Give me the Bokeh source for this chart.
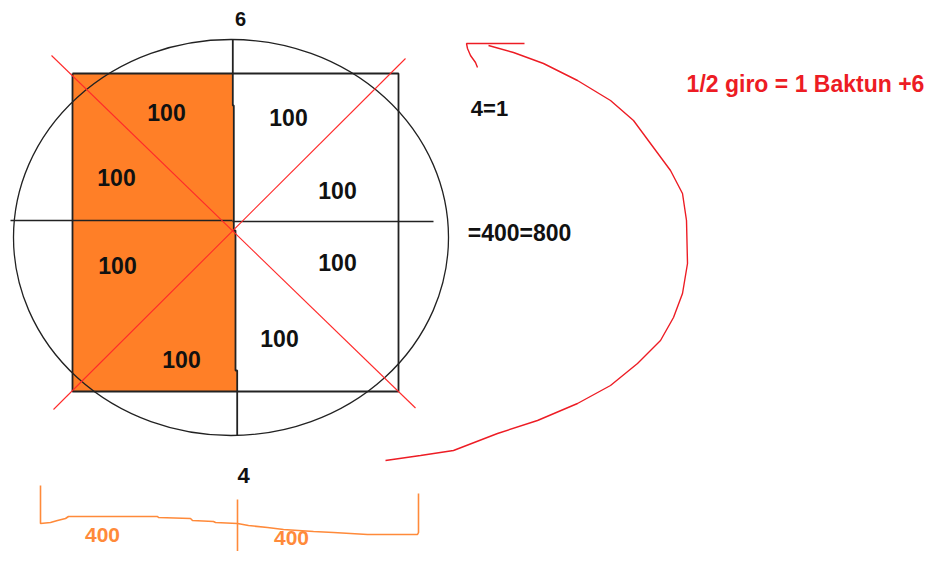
from bokeh.plotting import figure
from bokeh.models import Range1d
from bokeh.core.properties import value
from bokeh.embed import file_html
from bokeh.resources import INLINE

# ---- data (image-pixel coordinates of the hand drawing) ----
sector_labels = ["100", "100", "100", "100", "100", "100", "100", "100"]
sector_x = [166, 288, 116, 337, 117, 337, 279, 181]
sector_y = [112, 117, 177, 190, 265, 262, 338, 359]

note_labels = ["6", "4", "4=1", "=400=800"]
note_x = [240, 243, 489, 519]
note_y = [18, 475, 108, 232]
note_size = ["20px", "22px", "22px", "23px"]

title_text = ["1/2 giro = 1 Baktun +6"]
title_x = [805]
title_y = [83]

half_labels = ["400", "400"]
half_x = [102, 291]
half_y = [534, 537]

ellipse_cx, ellipse_cy, ellipse_w, ellipse_h = [230.5], [237], [435], [396]

square_x = [72, 398, 398, 72, 72]
square_y = [73, 73, 391, 391, 73]

fill_x = [72, 232, 232, 233, 233, 235, 235, 237, 237, 72]
fill_y = [73, 73, 105, 105, 230, 230, 370, 370, 391, 391]

vline_x = [232.3, 232.3, 233.3, 233.3, 235, 235, 236.7, 236.7]
vline_y = [39, 105, 105, 230, 230, 370, 370, 435]
hline_left_x, hline_left_y = [10, 232], [220, 220]
hline_right_x, hline_right_y = [232, 433], [221, 221]

diag1_x, diag1_y = [51, 415], [55, 407.5]
diag2_x, diag2_y = [405, 53], [58, 409]

arc_x = [488, 513, 543, 577, 610, 633, 650, 670, 682, 686, 687, 682, 673, 660,
         637, 610, 577, 537, 497, 453, 420, 385]
arc_y = [45, 52, 63, 80, 100, 120, 143, 170, 193, 220, 263, 293, 317, 340,
         363, 385, 403, 420, 433, 450, 455, 460]
arrow_x = [524, 466, 467, 470, 475, 477]
arrow_y = [43, 43, 48, 55, 62, 67]

brace_x = [40, 40, 50, 57, 65, 68, 97, 157, 158, 190, 192, 213, 215, 237, 248,
           267, 283, 313, 333, 367, 417, 418, 418]
brace_y = [485, 523, 522, 520, 518, 516, 516, 516, 517, 518, 520, 521, 522, 523,
           525, 527, 529, 531, 532, 534, 534, 532, 493]
tick_x, tick_y = [237, 237], [499, 556]

ORANGE = "#FF7F27"
RED = "#ED1C24"

p = figure(width=924, height=551, output_backend="svg", toolbar_location=None,
           x_range=Range1d(0, 924), y_range=Range1d(551, 0),
           x_axis_location=None, y_axis_location=None, min_border=0)
p.grid.visible = False
p.outline_line_color = None
p.background_fill_color = "white"

p.patch(fill_x, fill_y, fill_color=ORANGE, line_color=None)
p.ellipse(x=ellipse_cx, y=ellipse_cy, width=ellipse_w, height=ellipse_h,
          fill_color=None, line_color="#222222", line_width=1.3)
p.line(square_x, square_y, line_color="#222222", line_width=1.8)
p.line(vline_x, vline_y, line_color="#222222", line_width=1.8)
p.line(hline_left_x, hline_left_y, line_color="#222222", line_width=1.5)
p.line(hline_right_x, hline_right_y, line_color="#222222", line_width=1.5)
p.line(diag1_x, diag1_y, line_color="#FF2A2A", line_width=1.1)
p.line(diag2_x, diag2_y, line_color="#FF2A2A", line_width=1.1)
p.line(arc_x, arc_y, line_color=RED, line_width=1.4)
p.line(arrow_x, arrow_y, line_color=RED, line_width=1.4)
p.line(brace_x, brace_y, line_color="#FF8A3A", line_width=1.6)
p.line(tick_x, tick_y, line_color="#FF8A3A", line_width=1.6)

font = value("Liberation Sans")
p.text(x=sector_x, y=sector_y, text=sector_labels, text_font=font,
       text_font_size="23px", text_font_style="bold", text_color="#111111",
       text_align="center", text_baseline="middle")
p.text(x=note_x, y=note_y, text=note_labels, text_font=font,
       text_font_size=note_size, text_font_style="bold", text_color="#111111",
       text_align="center", text_baseline="middle")
p.text(x=title_x, y=title_y, text=title_text, text_font=font,
       text_font_size="23px", text_font_style="bold", text_color=RED,
       text_align="center", text_baseline="middle")
p.text(x=half_x, y=half_y, text=half_labels, text_font=font,
       text_font_size="21px", text_font_style="bold", text_color="#FF8A3A",
       text_align="center", text_baseline="middle")

open("out.html", "w").write(file_html(p, INLINE))
